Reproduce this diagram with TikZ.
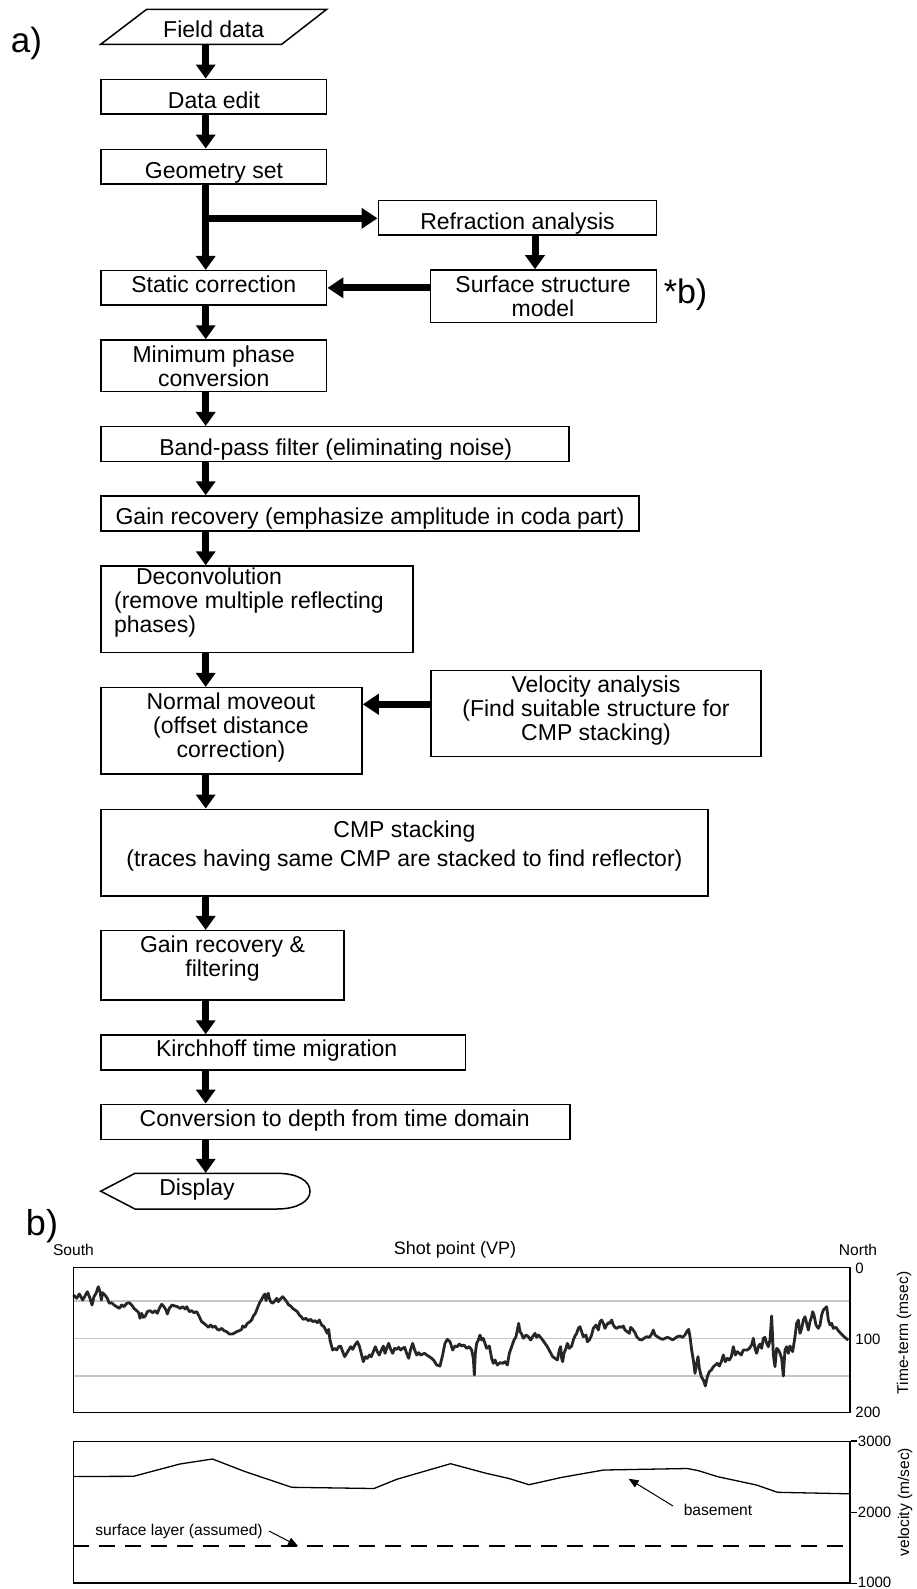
\documentclass[tikz,border=0pt]{standalone}
\usepackage{fontspec}
\setmainfont{Liberation Sans}
\usetikzlibrary{arrows.meta,fit}
\newcommand\stt{\rule[-0.25em]{0pt}{1em}}
\begin{document}
\begin{tikzpicture}[x=0.5pt,y=-0.5pt,
  box/.style={draw=black, line width=0.75pt, inner sep=0pt},
  ghost/.style={inner sep=0pt},
  txt/.style={font=\fontsize{11.5pt}{12pt}\selectfont, inner sep=0pt, align=center,
    execute at begin node=\stt, execute at end node=\stt},
  big/.style={font=\fontsize{17.5pt}{20pt}\selectfont, inner sep=0pt},
  small/.style={font=\fontsize{7.8pt}{9pt}\selectfont, inner sep=0pt},
  num/.style={font=\fontsize{7.5pt}{9pt}\selectfont, inner sep=0pt, anchor=west},
  flowv/.style={line width=3.5pt, -{Triangle[width=9.5pt,length=7pt]}},
  flowh/.style={line width=3.5pt, -{Triangle[width=10pt,length=8pt]}},
  thinarrow/.style={line width=0.5pt, -{Triangle[width=4pt,length=5pt]}},
  grid/.style={line width=0.8pt, draw=black!22},
  frame/.style={line width=0.75pt, draw=black},
  curve/.style={line width=1.4pt, draw=black!85, line join=round},
]
\useasboundingbox (0,0) rectangle (916,1589);

% ---------- a) flowchart ----------
\node[big] (la) at (26.5,43) {a)};

\node[ghost, fit={(100.7,9.3) (326.7,44.3)}] (fd) {};
\draw[line width=0.75pt] (100.7,44.3) -- (146.7,9.3) -- (326.7,9.3) -- (281.7,44.3) -- cycle;
\node[txt] (fd-t) at (213.7,31.6) {Field data};

\node[box, fit={(101,79.3) (326.7,114)}] (de) {};
\node[txt] (de-t) at (214,102.6) {Data edit};

\node[box, fit={(101,149.3) (326.7,184)}] (gs) {};
\node[txt] (gs-t) at (214,172.6) {Geometry set};

\node[box, fit={(378.3,200.7) (656.7,235)}] (ra) {};
\node[txt] (ra-t) at (517.5,223.8) {Refraction analysis};

\node[box, fit={(101,270.7) (326.7,305)}] (sc) {};
\node[txt] (sc-t) at (213.8,287) {Static correction};

\node[box, fit={(430.7,270) (656.7,322.7)}] (ss) {};
\node[txt] (ss-t) at (543,299) {Surface structure\\model};
\node[big, font=\fontsize{17pt}{19pt}\selectfont] (sb) at (685.5,295) {*b)};

\node[box, fit={(101,340) (326.7,391.7)}] (mp) {};
\node[txt] (mp-t) at (213.7,369.5) {Minimum phase\\conversion};

\node[box, fit={(101,426.7) (569,461.7)}] (bp) {};
\node[txt] (bp-t) at (335.7,449.3) {Band-pass filter (eliminating noise)};

\node[box, fit={(101,496) (639,531)}] (gr) {};
\node[txt] (gr-t) at (370,518.6) {Gain recovery (emphasize amplitude in coda part)};

\node[box, fit={(101,566) (413,652.7)}] (dc) {};
\node[txt, align=left, anchor=west] (dc-t) at (113.7,603.5) {\hspace*{11pt}Deconvolution\\(remove multiple reflecting\\phases)};

\node[box, fit={(101,687.7) (362,774)}] (nm) {};
\node[txt] (nm-t) at (231,728.2) {Normal moveout\\(offset distance\\correction)};

\node[box, fit={(431,670.7) (761,756.7)}] (va) {};
\node[txt] (va-t) at (596,711.5) {Velocity analysis\\(Find suitable structure for\\CMP stacking)};

\node[box, fit={(101,809.3) (708,896)}] (cmp) {};
\node[txt] (cmp-t) at (404.4,847) {CMP stacking\\[2.5pt](traces having same CMP are stacked to find reflector)};

\node[box, fit={(101,930.7) (344,1000)}] (grf) {};
\node[txt] (grf-t) at (222.5,959.5) {Gain recovery \&\\filtering};

\node[box, fit={(101,1035) (465.7,1070)}] (kt) {};
\node[txt] (kt-t) at (276.7,1051) {Kirchhoff time migration};

\node[box, fit={(101,1104.3) (570,1139.3)}] (cd) {};
\node[txt] (cd-t) at (334.7,1121) {Conversion to depth from time domain};

\node[ghost, fit={(100.7,1173.3) (310,1209)}] (disp) {};
\draw[line width=0.75pt] (100.7,1191.2) -- (135,1173.3) -- (276.7,1173.3)
  .. controls (298,1173.3) and (310,1181) .. (310,1191.2)
  .. controls (310,1201) and (298,1209) .. (276.7,1209) -- (135,1209) -- cycle;
\node[txt] (disp-t) at (197,1189.3) {Display};

% connectors
\coordinate (ax) at (205.7,0);
\coordinate (br) at (205.7,218.3);
\coordinate (rx) at (535,0);
\coordinate (vy) at (0,704.3);
\draw[flowv] (fd.south -| ax) -- (de.north -| ax);
\draw[flowv] (de.south -| ax) -- (gs.north -| ax);
\draw[flowv] (gs.south -| ax) -- (sc.north -| ax);
\draw[flowh] (br) -- (ra.west |- br);
\draw[flowv] (ra.south -| rx) -- (ss.north -| rx);
\draw[flowh] (ss.west |- sc.east) -- (sc.east);
\draw[flowv] (sc.south -| ax) -- (mp.north -| ax);
\draw[flowv] (mp.south -| ax) -- (bp.north -| ax);
\draw[flowv] (bp.south -| ax) -- (gr.north -| ax);
\draw[flowv] (gr.south -| ax) -- (dc.north -| ax);
\draw[flowv] (dc.south -| ax) -- (nm.north -| ax);
\draw[flowh] (va.west |- vy) -- (nm.east |- vy);
\draw[flowv] (nm.south -| ax) -- (cmp.north -| ax);
\draw[flowv] (cmp.south -| ax) -- (grf.north -| ax);
\draw[flowv] (grf.south -| ax) -- (kt.north -| ax);
\draw[flowv] (kt.south -| ax) -- (cd.north -| ax);
\draw[flowv] (cd.south -| ax) -- (disp.north -| ax);

% ---------- b) plots ----------
\node[big, font=\fontsize{18pt}{20pt}\selectfont] (lb) at (42,1226) {b)};
\node[small] (south) at (73.4,1250) {South};
\node[small, font=\fontsize{9pt}{10pt}\selectfont] (shot) at (455,1250) {Shot point (VP)};
\node[small] (north) at (858,1250) {North};

% top panel
\draw[grid] (73.3,1301) -- (850,1301);
\draw[grid] (73.3,1338.5) -- (850,1338.5);
\draw[grid] (73.3,1376) -- (850,1376);
\begin{scope}[shift={(60,1240)},scale=0.333333]
\draw[curve] plot coordinates {(40,165) (50,175) (58,162) (68,180) (75,168) (82,155) (90,175) (96,195) (102,170) (108,160) (115,140) (120,155) (124,180) (128,158) (135,165) (142,175) (148,190) (155,188) (162,195) (170,200) (178,205) (185,195) (192,200) (200,190) (208,188) (215,195) (222,205) (230,212) (236,218) (240,235) (245,220) (250,232) (256,228) (262,215) (270,212) (278,218) (285,212) (292,220) (298,205) (305,193) (312,200) (318,210) (322,222) (328,205) (336,195) (345,198) (352,200) (360,205) (368,200) (375,207) (380,200) (388,215) (395,212) (402,218) (410,215) (418,230) (425,245) (432,250) (438,255) (445,262) (452,255) (458,262) (465,258) (472,268) (478,270) (485,265) (492,272) (500,275) (508,282) (516,282) (522,280) (530,275) (538,272) (545,268) (548,258) (555,262) (562,250) (570,245) (575,240) (580,228) (586,220) (592,205) (598,190) (605,178) (610,168) (615,162) (618,182) (622,165) (625,160) (628,175) (632,185) (638,190) (645,182) (650,175) (655,185) (660,178) (668,170) (675,178) (680,185) (686,195) (692,198) (698,205) (705,210) (712,215) (718,225) (725,232) (730,238) (738,235) (745,242) (752,238) (758,245) (765,242) (772,248) (778,240) (785,255) (792,260) (797,270) (802,280) (806,268) (810,300) (815,320) (818,330) (824,325) (830,330) (836,320) (842,318) (848,335) (854,350) (860,340) (866,330) (872,320) (878,328) (885,315) (892,305) (898,318) (905,345) (910,365) (916,350) (922,355) (928,345) (934,350) (940,335) (946,320) (952,335) (958,345) (964,330) (970,318) (975,340) (980,325) (986,310) (992,328) (998,340) (1004,325) (1010,328) (1016,322) (1022,330) (1028,325) (1034,322) (1040,340) (1046,355) (1052,328) (1058,310) (1064,330) (1070,345) (1076,338) (1082,345) (1088,342) (1094,340) (1100,345) (1108,350) (1115,355) (1122,362) (1130,375) (1140,378) (1148,345) (1155,310) (1162,298) (1170,305) (1178,330) (1185,318) (1192,320) (1198,312) (1205,318) (1212,315) (1220,325) (1228,320) (1235,330) (1240,355) (1243,405) (1246,340) (1250,310) (1255,300) (1260,285) (1265,300) (1270,295) (1275,310) (1280,325) (1288,318) (1295,355) (1300,370) (1305,360) (1312,375) (1320,368) (1328,370) (1335,365) (1342,375) (1348,340) (1355,320) (1362,300) (1368,290) (1372,270) (1376,250) (1380,275) (1385,282) (1390,295) (1398,285) (1405,290) (1412,300) (1418,290) (1425,280) (1430,292) (1435,285) (1440,290) (1448,300) (1455,310) (1462,320) (1470,335) (1478,350) (1485,355) (1492,360) (1498,330) (1502,320) (1505,355) (1508,365) (1512,340) (1518,325) (1522,310) (1528,325) (1535,318) (1540,300) (1545,288) (1550,280) (1555,265) (1560,260) (1565,275) (1570,290) (1578,285) (1582,305) (1588,300) (1595,285) (1600,265) (1608,255) (1615,270) (1620,245) (1625,240) (1630,250) (1635,265) (1640,255) (1645,248) (1650,250) (1655,240) (1660,255) (1665,262) (1670,265) (1678,260) (1685,262) (1690,258) (1695,270) (1702,275) (1708,280) (1712,262) (1718,268) (1725,278) (1730,290) (1738,298) (1745,300) (1752,295) (1760,290) (1768,292) (1775,282) (1780,270) (1785,285) (1792,290) (1800,295) (1808,298) (1815,295) (1822,292) (1830,295) (1838,300) (1845,295) (1852,290) (1860,288) (1868,292) (1875,285) (1882,272) (1886,268) (1890,290) (1895,330) (1900,360) (1905,400) (1910,370) (1914,350) (1918,385) (1924,410) (1930,420) (1936,438) (1942,410) (1948,395) (1954,390) (1960,380) (1966,375) (1972,370) (1978,378) (1984,365) (1990,345) (1996,365) (2002,355) (2008,360) (2014,350) (2020,320) (2026,345) (2032,335) (2038,340) (2044,345) (2050,330) (2056,330) (2062,330) (2068,325) (2075,315) (2080,295) (2085,325) (2090,340) (2095,320) (2100,312) (2105,325) (2110,295) (2115,292) (2120,310) (2125,320) (2130,300) (2135,228) (2140,345) (2145,380) (2150,325) (2155,330) (2160,340) (2165,355) (2170,408) (2175,330) (2180,320) (2185,340) (2190,318) (2198,335) (2205,290) (2210,250) (2215,240) (2220,280) (2225,265) (2230,240) (2235,230) (2240,250) (2245,270) (2250,245) (2255,230) (2258,215) (2262,225) (2268,255) (2275,265) (2280,255) (2285,225) (2290,210) (2295,205) (2300,200) (2305,240) (2310,255) (2315,250) (2320,265) (2328,262) (2335,272) (2342,280) (2350,288) (2358,295) (2365,300)};
\end{scope}
\node[frame, draw, ghost, fit={(73.3,1267.3) (850,1412.3)}] (tp) {};
\node[num] (t0) at (855,1268) {0};
\node[num] (t100) at (855,1339.5) {100};
\node[num] (t200) at (855,1412.5) {200};
\node[small, rotate=90] (tlab) at (904,1333) {Time-term (msec)};

% bottom panel
\node[frame, draw, ghost, fit={(73.3,1441.7) (850,1583)}] (bp2) {};
\draw[line width=0.6pt] (bp2.north east) -- ++(6,0);
\draw[line width=0.6pt] (bp2.east) -- ++(6,0);
\draw[line width=0.6pt] (bp2.south east) -- ++(6,0);
\node[num] (v3) at (857.5,1441) {3000};
\node[num] (v2) at (857.5,1512.3) {2000};
\node[num] (v1) at (857.5,1582.5) {1000};
\node[small, rotate=90] (vlab) at (905,1502) {velocity (m/sec)};

\draw[line width=0.65pt, line join=round] (73.3,1476.5) -- (133.6,1476.3) -- (179.8,1464) -- (212.5,1459) -- (244,1471.2) -- (291.8,1487.3) -- (374,1488.5) -- (396.7,1479.3) -- (450.6,1463.7) -- (485,1473) -- (509,1478.5) -- (529,1484.7) -- (562,1477.3) -- (603.7,1470) -- (687.3,1468.5) -- (698.6,1470.7) -- (717.8,1476.7) -- (756.5,1485) -- (777.5,1492.3) -- (850,1493.8);
\draw[line width=0.9pt, dash pattern=on 8pt off 5pt] (73.3,1546) -- (850,1546);

\node[small] (base) at (718,1510) {basement};
\node[small] (surf) at (179,1531) {surface layer (assumed)};
\coordinate (bh) at (628.5,1478.7);
\coordinate (sh) at (298,1546);
\draw[thinarrow] (673,1506) -- (bh);
\draw[thinarrow] (269,1531) -- (sh);
\end{tikzpicture}
\end{document}
